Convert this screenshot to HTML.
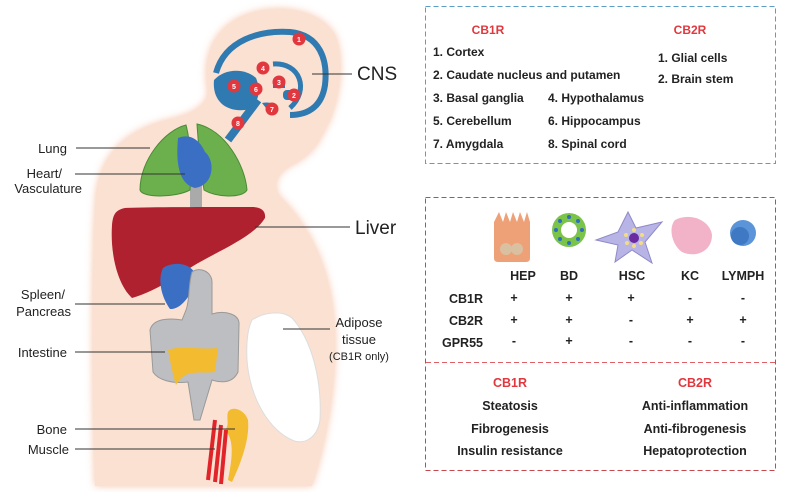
<!DOCTYPE html>
<html><head><meta charset="utf-8"><style>
body{margin:0;background:#fff;}
svg{display:block;font-family:"Liberation Sans",Arial,sans-serif;}
</style></head><body>
<svg width="785" height="492" viewBox="0 0 785 492">
<defs>
<filter id="glow" x="-10%" y="-10%" width="120%" height="120%"><feGaussianBlur stdDeviation="4"/></filter>
</defs>
<g>
<path d="M95,486 C92,400 91,260 96,195 C101,150 130,128 175,118 C198,112 208,102 208,92 C204,70 205,38 235,20 C270,0 320,8 335,35 C345,60 340,95 330,120 C322,135 318,145 312,150 C305,158 298,162 290,166 C280,172 272,180 278,195 C310,225 332,270 335,330 C337,390 325,445 312,486 Z" fill="#f5b79a" filter="url(#glow)" opacity="0.8"/>
<path d="M95,486 C92,400 91,260 96,195 C101,150 130,128 175,118 C198,112 208,102 208,92 C204,70 205,38 235,20 C270,0 320,8 335,35 C345,60 340,95 330,120 C322,135 318,145 312,150 C305,158 298,162 290,166 C280,172 272,180 278,195 C310,225 332,270 335,330 C337,390 325,445 312,486 Z" fill="#fbe1d2"/>
</g>
<path d="M216,73 C225,40 260,30 290,32 C320,35 328,60 325,85 C322,105 310,115 290,115" fill="none" stroke="#2f7ab0" stroke-width="6"/>
<path d="M214,80 C212,100 225,112 245,110 C258,106 262,92 256,78 C245,68 225,68 214,80Z" fill="#2f7ab0"/>
<path d="M273,64 C300,62 310,90 290,108" fill="none" stroke="#2f7ab0" stroke-width="5"/>
<rect x="273" y="80" width="12" height="8" fill="#2f7ab0"/>
<rect x="283" y="90" width="14" height="10" rx="4" fill="#2f7ab0"/>
<path d="M258,100 L228,140" stroke="#2f7ab0" stroke-width="8"/>
<path d="M262,103 C275,100 282,110 270,113Z" fill="#2f7ab0"/>
<g font-size="7" font-weight="bold" fill="#fff" text-anchor="middle">
<circle cx="299" cy="39" r="6.5" fill="#e0383e"/><text x="299" y="42">1</text>
<circle cx="294" cy="95" r="6.5" fill="#e0383e"/><text x="294" y="98">2</text>
<circle cx="279" cy="82" r="6.5" fill="#e0383e"/><text x="279" y="85">3</text>
<circle cx="263" cy="68" r="6.5" fill="#e0383e"/><text x="263" y="71">4</text>
<circle cx="234" cy="86" r="6.5" fill="#e0383e"/><text x="234" y="89">5</text>
<circle cx="256" cy="89" r="6.5" fill="#e0383e"/><text x="256" y="92">6</text>
<circle cx="272" cy="109" r="6.5" fill="#e0383e"/><text x="272" y="112">7</text>
<circle cx="238" cy="123" r="6.5" fill="#e0383e"/><text x="238" y="126">8</text>
</g>
<rect x="190" y="180" width="12" height="30" fill="#aaa"/>
<path d="M186,125 C165,130 140,160 140,190 C142,198 175,198 190,190 C192,165 190,140 186,125Z" fill="#6cb04e" stroke="#4a8a35"/>
<path d="M197,124 C225,130 245,165 247,190 C242,199 215,197 204,190 C200,165 198,140 197,124Z" fill="#6cb04e" stroke="#4a8a35"/>
<path d="M178,138 C190,133 200,140 205,152 C215,160 215,185 195,188 C182,185 175,170 178,138Z" fill="#3b6fc4"/>
<path d="M112,225 C110,255 118,285 132,298 C160,290 185,270 200,262 C225,248 255,235 265,218 C266,210 260,207 252,207 C200,207 150,207 125,208 C115,210 113,215 112,225Z" fill="#b0212f"/>
<path d="M163,268 C175,260 195,264 196,278 C192,296 180,310 170,309 C160,295 158,278 163,268Z" fill="#3b6fc4"/>
<path d="M192,272 C200,266 212,272 212,282 L212,314 C225,310 240,314 239,325 L238,372 C232,385 218,382 212,380 L200,420 L194,420 L188,382 C172,384 158,380 153,372 L150,330 C153,318 170,318 182,320 L186,310 C190,300 188,285 192,272Z" fill="#bdbec2" stroke="#999" stroke-width="1"/>
<path d="M168,350 C180,345 200,350 218,348 L215,372 C200,374 185,368 176,385 C172,372 170,360 168,350Z" fill="#f2bb30"/>
<path d="M252,320 C264,312 282,310 292,318 C312,340 322,380 320,420 C317,440 302,445 292,440 C270,430 250,400 247,360 C246,340 248,328 252,320Z" fill="#fff" stroke="#ddd"/>
<path d="M228,412 C232,405 245,410 248,420 C250,440 240,465 232,482 L228,480 C232,460 235,440 225,430 C230,425 226,418 228,412Z" fill="#f2bb30"/>
<path d="M215,420 L208,480 M221,425 L215,482 M226,430 L221,484" stroke="#e0242a" stroke-width="4"/>
<g stroke="#333" stroke-width="1" fill="none">
<line x1="312" y1="74" x2="352" y2="74"/>
<line x1="76" y1="148" x2="150" y2="148"/>
<line x1="75" y1="174" x2="185" y2="174"/>
<line x1="255" y1="227" x2="350" y2="227"/>
<line x1="75" y1="304" x2="165" y2="304"/>
<line x1="75" y1="352" x2="165" y2="352"/>
<line x1="283" y1="329" x2="330" y2="329"/>
<line x1="75" y1="429" x2="235" y2="429"/>
<line x1="75" y1="449" x2="215" y2="449"/>
</g>
<g fill="#222">
<text x="357" y="80" font-size="19">CNS</text>
<text x="355" y="234" font-size="19">Liver</text>
<text x="67" y="153" font-size="13" text-anchor="end">Lung</text>
<text x="62" y="178" font-size="13" text-anchor="end">Heart/</text>
<text x="82" y="193" font-size="13" text-anchor="end">Vasculature</text>
<text x="65" y="299" font-size="13" text-anchor="end">Spleen/</text>
<text x="71" y="316" font-size="13" text-anchor="end">Pancreas</text>
<text x="67" y="357" font-size="13" text-anchor="end">Intestine</text>
<text x="359" y="327" font-size="13" text-anchor="middle">Adipose</text>
<text x="359" y="344" font-size="13" text-anchor="middle">tissue</text>
<text x="359" y="360" font-size="11" text-anchor="middle">(CB1R only)</text>
<text x="67" y="434" font-size="13" text-anchor="end">Bone</text>
<text x="69" y="454" font-size="13" text-anchor="end">Muscle</text>
</g>
<rect x="425.5" y="6.5" width="350" height="157" fill="none" stroke="#5a9ec8" stroke-dasharray="5,3"/>
<g font-size="12" font-weight="bold" fill="#222">
<text x="488" y="34" fill="#e0383e" text-anchor="middle">CB1R</text>
<text x="690" y="34" fill="#e0383e" text-anchor="middle">CB2R</text>
<text x="433" y="56">1. Cortex</text>
<text x="433" y="79">2. Caudate nucleus and putamen</text>
<text x="433" y="102">3. Basal ganglia</text>
<text x="548" y="102">4. Hypothalamus</text>
<text x="433" y="125">5. Cerebellum</text>
<text x="548" y="125">6. Hippocampus</text>
<text x="433" y="148">7. Amygdala</text>
<text x="548" y="148">8. Spinal cord</text>
<text x="658" y="62">1. Glial cells</text>
<text x="658" y="83">2. Brain stem</text>
</g>
<rect x="425.5" y="197.5" width="350" height="273" fill="none" stroke="#c8464e" stroke-dasharray="5,3"/>
<line x1="426" y1="362.5" x2="775" y2="362.5" stroke="#e06068" stroke-dasharray="5,3"/>
<path d="M494,222 L494,258 Q494,262 498,262 L526,262 Q530,262 530,258 L530,222 L527,212 L524,222 L520,212 L517,222 L513,212 L510,222 L506,212 L503,222 L499,212 Z" fill="#eea077"/>
<circle cx="506" cy="249" r="6" fill="#d9c0a0"/><circle cx="517" cy="249" r="6" fill="#d9c0a0"/>
<circle cx="569" cy="230" r="17" fill="#7cc34a"/><circle cx="569" cy="230" r="8" fill="#fff"/>
<g fill="#2a6fc0"><circle cx="569" cy="217" r="2"/><circle cx="582" cy="230" r="2"/><circle cx="569" cy="243" r="2"/><circle cx="556" cy="230" r="2"/><circle cx="578" cy="221" r="2"/><circle cx="560" cy="239" r="2"/><circle cx="578" cy="239" r="2"/><circle cx="560" cy="221" r="2"/></g>
<path d="M596,240 L618,232 L628,212 L636,228 L662,222 L645,242 L652,263 L632,250 L615,262 L618,245 Z" fill="#b9b4e6" stroke="#8f8ac8"/>
<circle cx="634" cy="238" r="5" fill="#6a2aa0"/>
<g fill="#f2dd80"><circle cx="626" cy="235" r="2"/><circle cx="642" cy="235" r="2"/><circle cx="634" cy="230" r="2"/><circle cx="634" cy="246" r="2"/><circle cx="627" cy="243" r="2"/><circle cx="641" cy="243" r="2"/></g>
<path d="M675,220 C690,212 710,220 712,235 C712,252 695,258 682,252 C672,245 668,228 675,220Z" fill="#f2b2c8"/>
<circle cx="743" cy="233" r="13" fill="#5b94d8"/><circle cx="740" cy="236" r="9" fill="#3f79c4"/>
<g font-size="12.5" font-weight="bold" fill="#222" text-anchor="middle">
<text x="523" y="280">HEP</text><text x="569" y="280">BD</text><text x="632" y="280">HSC</text><text x="690" y="280">KC</text><text x="743" y="280">LYMPH</text>
<text x="483" y="303" text-anchor="end">CB1R</text>
<text x="483" y="325" text-anchor="end">CB2R</text>
<text x="483" y="347" text-anchor="end">GPR55</text>
<text x="514" y="302">+</text><text x="569" y="302">+</text><text x="631" y="302">+</text><text x="690" y="302">-</text><text x="743" y="302">-</text>
<text x="514" y="324">+</text><text x="569" y="324">+</text><text x="631" y="324">-</text><text x="690" y="324">+</text><text x="743" y="324">+</text>
<text x="514" y="345">-</text><text x="569" y="345">+</text><text x="631" y="345">-</text><text x="690" y="345">-</text><text x="743" y="345">-</text>
<text x="510" y="387" fill="#e0383e">CB1R</text>
<text x="695" y="387" fill="#e0383e">CB2R</text>
<text x="510" y="410">Steatosis</text>
<text x="510" y="433">Fibrogenesis</text>
<text x="510" y="455">Insulin resistance</text>
<text x="695" y="410">Anti-inflammation</text>
<text x="695" y="433">Anti-fibrogenesis</text>
<text x="695" y="455">Hepatoprotection</text>
</g>
</svg>
</body></html>
